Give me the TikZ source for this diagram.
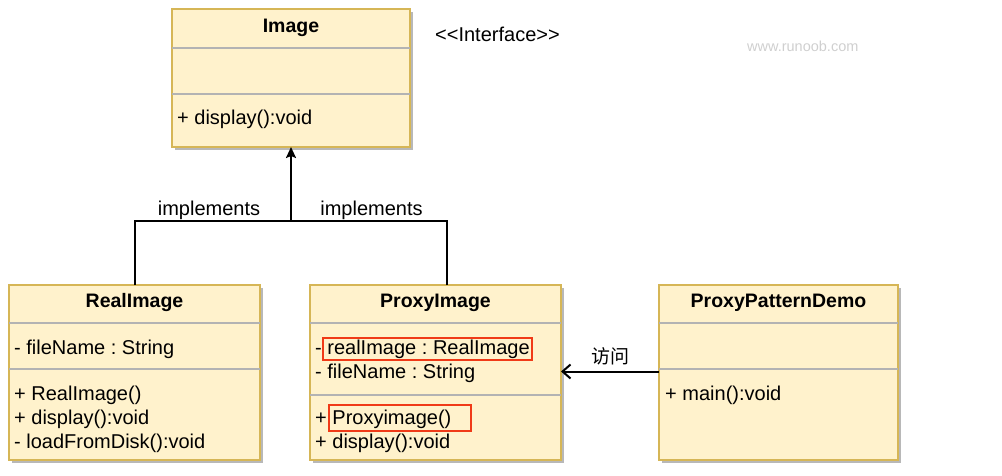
\documentclass[tikz,border=0pt]{standalone}
\usepackage{fontspec}
\setmainfont{Liberation Sans}
\newfontfamily\cjk{Noto Sans CJK SC}
\usetikzlibrary{arrows.meta,shadows}
\definecolor{boxfill}{HTML}{FFF2CC}
\definecolor{boxline}{HTML}{D6B656}
\definecolor{divline}{HTML}{B3B3B3}
\definecolor{redmark}{HTML}{F03A17}
\definecolor{wmark}{HTML}{CFCFCF}
\frenchspacing
\tikzset{
  x=1pt, y=-1pt,
  cls/.style={draw=boxline, fill=boxfill, line width=2pt, inner sep=0pt, outer sep=0pt, anchor=north west,
    drop shadow={shadow xshift=3pt, shadow yshift=-3pt, fill=black!28, opacity=1}},
  divider/.style={draw=divline, line width=1.2pt},
  ttl/.style={anchor=base, inner sep=0pt, font=\fontsize{19.5}{23}\selectfont\bfseries},
  itm/.style={anchor=base west, inner sep=0pt, font=\fontsize{20}{23}\selectfont},
  lbl/.style={anchor=base, inner sep=0pt, font=\fontsize{20}{23}\selectfont},
  conn/.style={draw=black, line width=2pt},
  redbox/.style={draw=redmark, line width=2pt},
}
\begin{document}
\frenchspacing
\begin{tikzpicture}
\useasboundingbox (0,0) rectangle (1002,476);
% boxes
\node[cls, minimum width=238pt, minimum height=138pt] (image) at (172,9) {};
\node[cls, minimum width=251pt, minimum height=175pt] (real) at (9,285) {};
\node[cls, minimum width=251pt, minimum height=175pt] (proxy) at (310,285) {};
\node[cls, minimum width=239pt, minimum height=175pt] (ppd) at (659,285) {};
% dividers
\draw[divider] (image.west |- 0,48) -- (image.east |- 0,48);
\draw[divider] (image.west |- 0,94) -- (image.east |- 0,94);
\draw[divider] (real.west |- 0,323) -- (real.east |- 0,323);
\draw[divider] (real.west |- 0,369) -- (real.east |- 0,369);
\draw[divider] (proxy.west |- 0,323) -- (proxy.east |- 0,323);
\draw[divider] (proxy.west |- 0,395) -- (proxy.east |- 0,395);
\draw[divider] (ppd.west |- 0,323) -- (ppd.east |- 0,323);
\draw[divider] (ppd.west |- 0,369) -- (ppd.east |- 0,369);
% texts
\node[ttl] (imgT) at (291,33) {Image};
\node[itm] (imgM) at (177,125) {+ display():void};
\node[ttl] (realT) at (134.5,307.5) {RealImage};
\node[itm] (realA) at (14,354.5) {- fileName : String};
\node[itm] (realM1) at (14,400) {+ RealImage()};
\node[itm] (realM2) at (14,424) {+ display():void};
\node[itm] (realM3) at (14,448) {- loadFromDisk():void};
\node[ttl] (proxyT) at (435.5,307.5) {ProxyImage};
\node[itm] (proxyA1) at (315,354.5) {- realImage : RealImage};
\node[itm] (proxyA2) at (315,378) {- fileName : String};
\node[itm] (proxyM1) at (315,424.5) {+ Proxyimage()};
\node[itm] (proxyM2) at (315,448) {+ display():void};
\node[ttl] (ppdT) at (778.5,307.5) {ProxyPatternDemo};
\node[itm] (ppdM) at (665,400.5) {+ main():void};
\node[itm] (iface) at (435,41.5) {{<}{<}Interface{>}{>}};
\node[anchor=base west, inner sep=0pt, text=wmark, font=\fontsize{14.5}{17}\selectfont] (wm) at (747,52) {www.runoob.com};
% red marks
\draw[redbox] (322.5,338) rectangle (532,360);
\draw[redbox] (329,404.5) rectangle (470.5,431);
% connectors
\coordinate (junc) at (291,221);
\coordinate (pj) at (447,285);
\draw[conn] (real.north) |- (junc);
\draw[conn] (pj) |- (junc);
\draw[conn, -{Stealth[length=11pt, width=10pt, inset=2pt]}] (junc) -- (image.south);
\node[lbl] (impl1) at (209,215.5) {implements};
\node[lbl] (impl2) at (371.5,215.5) {implements};
\coordinate (ppdA) at (659,371.5);
\coordinate (proxyA) at (561,371.5);
\draw[conn, -{Straight Barb[length=8pt, width=14pt, line width=2pt]}] (ppdA) -- (proxyA);
\node[anchor=center, inner sep=0pt, font=\fontsize{19}{22}\selectfont\cjk] (visit) at (610,356) {访问};
\end{tikzpicture}
\end{document}
